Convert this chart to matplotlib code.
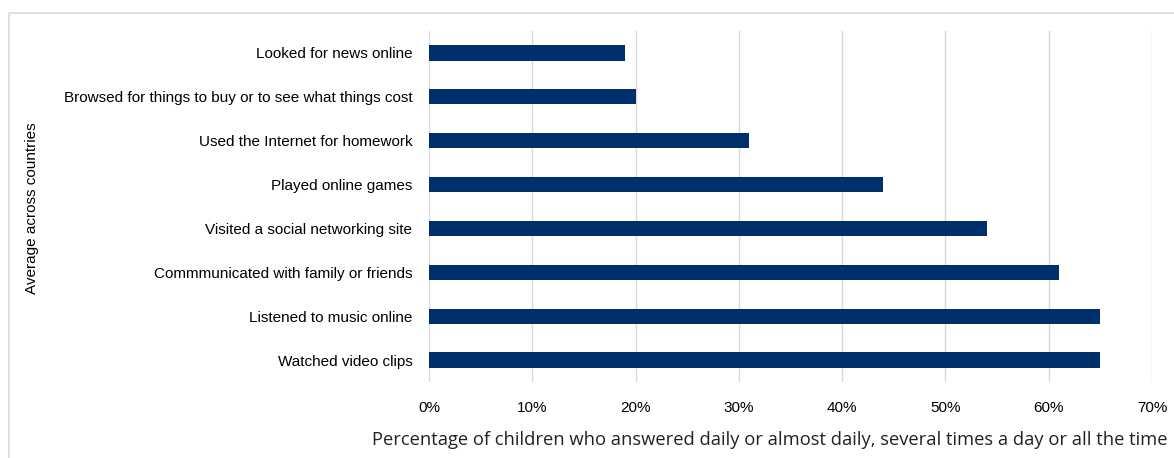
import matplotlib.pyplot as plt
from matplotlib.patches import Rectangle
from matplotlib.ticker import PercentFormatter

# data
activities = [
    "Looked for news online",
    "Browsed for things to buy or to see what things cost",
    "Used the Internet for homework",
    "Played online games",
    "Visited a social networking site",
    "Commmunicated with family or friends",
    "Listened to music online",
    "Watched video clips",
]
shares = [19, 20, 31, 44, 54, 61, 65, 65]
xticks = [0, 10, 20, 30, 40, 50, 60, 70]

W, H = 1174, 458
fig = plt.figure(figsize=(W / 100, H / 100), dpi=100)
ax = fig.add_axes([429 / W, 1 - 382 / H, (1152 - 429) / W, (382 - 31) / H])

# light frame around the chart area
fig.patches.append(Rectangle((9 / W, -0.1), 1.2, 1 - 13 / H + 0.1,
                             transform=fig.transFigure, fill=False,
                             edgecolor="#d9d9d9", linewidth=1.2))

ax.barh(range(len(activities)), shares, height=0.35, color="#00306b", zorder=3)
ax.set_ylim(len(activities) - 0.5, -0.5)
ax.set_xlim(0, 70)
ax.set_yticks(range(len(activities)))
ax.set_yticklabels(activities, fontfamily="Liberation Sans", fontsize=11)
ax.set_xticks(xticks)
ax.xaxis.set_major_formatter(PercentFormatter(decimals=0))
for lab in ax.get_xticklabels():
    lab.set_fontfamily("Liberation Sans")
    lab.set_fontsize(11)

ax.grid(axis="x", color="#d9d9d9", linewidth=1, zorder=0)
for s in ax.spines.values():
    s.set_visible(False)
ax.tick_params(axis="y", length=0, pad=12)
ax.tick_params(axis="x", length=0, pad=14)

fig.text(770 / W, 1 - 440 / H,
         "Percentage of children who answered daily or almost daily, several times a day or all the time",
         ha="center", va="center", fontfamily="Open Sans", fontsize=13.2, color="#222222")
fig.text(32 / W, 1 - 208 / H, "Average across countries", rotation=90,
         ha="center", va="center", fontfamily="Liberation Sans", fontsize=11)

fig.savefig("out.png", dpi=100)
